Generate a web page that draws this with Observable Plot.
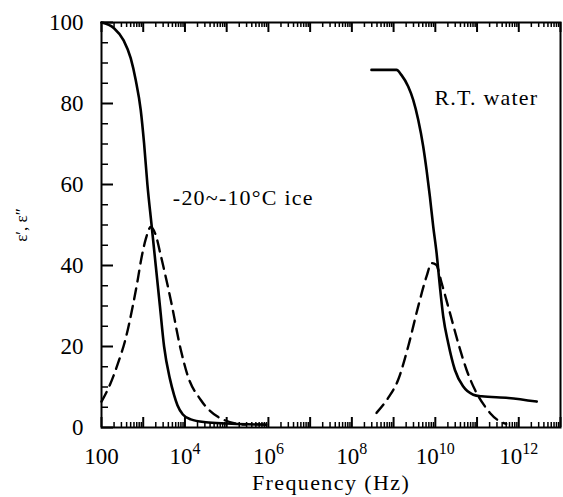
<!DOCTYPE html>
<html>
<head>
<meta charset="utf-8">
<script src="https://cdn.jsdelivr.net/npm/d3@7"></script>
<script src="https://cdn.jsdelivr.net/npm/@observablehq/plot@0.6"></script>
<style>
  body { margin: 0; background: #fff; }
  .chart g[aria-label="text"] text { letter-spacing: 1.2px; }
  .chart g[aria-label="x-axis label"] text { letter-spacing: 1.4px; font-size: 22px; }
  .chart g[aria-label="y-axis label"] text { font-size: 17px; }
</style>
</head>
<body>
<div id="chart"></div>
<script>
// log10 of frequency (Hz) and permittivity values
const iceRealLogF = [2.0, 2.3, 2.53, 2.7, 2.82, 2.94, 3.02, 3.1, 3.2, 3.3, 3.4, 3.5, 3.64, 3.74, 3.82, 3.95, 4.14, 4.5, 5.0, 5.5, 5.95];
const iceRealEps  = [100, 98.6, 95.6, 91.2, 85.8, 78.4, 70.2, 60, 50, 40, 30, 20, 12, 8, 5.5, 3.2, 2, 1.3, 1.0, 0.8, 0.7];

const iceImagLogF = [2.0, 2.2, 2.4, 2.58, 2.74, 2.86, 2.96, 3.06, 3.18, 3.3, 3.42, 3.66, 3.9, 4.06, 4.38, 4.78, 4.93, 5.2, 5.45];
const iceImagEps  = [6.4, 10.5, 16, 22, 29.5, 36, 42, 46.5, 49.5, 47.5, 42.5, 31.5, 19.2, 13, 6.8, 2.7, 1.9, 1.0, 0.7];

const waterRealLogF = [8.47, 9.07, 9.19, 9.35, 9.47, 9.59, 9.71, 9.79, 9.87, 9.95, 10.03, 10.11, 10.19, 10.31, 10.47, 10.67, 10.91, 11.11, 11.75, 12.43];
const waterRealEps  = [88.3, 88.3, 87, 84.2, 80.9, 76, 69.4, 63.6, 57, 49.6, 43.1, 34.8, 27.4, 20.8, 14.2, 10.1, 8.1, 7.7, 7.3, 6.4];

const waterImagLogF = [8.59, 8.87, 9.11, 9.35, 9.59, 9.79, 9.91, 10.02, 10.15, 10.35, 10.55, 10.75, 10.95, 11.19, 11.31, 11.5, 11.7];
const waterImagEps  = [3.6, 7.3, 11.8, 20, 29.9, 37.3, 40.6, 40.2, 35.7, 28.3, 20.8, 14.2, 9.3, 5.2, 3.6, 1.8, 0.9];

const annotations = ["-20~-10°C ice", "R.T. water"];
const annotationLogF = [3.71, 9.98];
const annotationEps = [56.7, 81.4];

const xDecadeExps = [2, 3, 4, 5, 6, 7, 8, 9, 10, 11, 12, 13];
const xLabelExps = [2, 4, 6, 8, 10, 12];
const yMajorTicks = [0, 20, 40, 60, 80, 100];
const yMinorTicks = [5, 10, 15, 25, 30, 35, 45, 50, 55, 65, 70, 75, 85, 90, 95];

const toRows = (lf, v) => lf.map((l, i) => ({f: 10 ** l, v: v[i]}));
const iceReal = toRows(iceRealLogF, iceRealEps);
const iceImag = toRows(iceImagLogF, iceImagEps);
const waterReal = toRows(waterRealLogF, waterRealEps);
const waterImag = toRows(waterImagLogF, waterImagEps);
const notes = annotations.map((t, i) => ({t, f: 10 ** annotationLogF[i], v: annotationEps[i]}));

const xMajor = xDecadeExps.map(e => 10 ** e);
const xMinor = xDecadeExps.slice(0, -1).flatMap(e => [2,3,4,5,6,7,8,9].map(m => m * 10 ** e));
const xLabels = xLabelExps.map(e => 10 ** e);
const fmt = d => { const e = Math.round(Math.log10(d)); return e === 2 ? "100" : "10^" + e; };

const W = 563, H = 497, ML = 101, MR = 3, MT = 22, MB = 70;
const frameH = H - MT - MB, frameW = W - ML - MR;

const chart = Plot.plot({
  width: W, height: H,
  marginLeft: ML, marginRight: MR, marginTop: MT, marginBottom: MB,
  className: "chart",
  style: {fontFamily: "'Liberation Serif', 'Times New Roman', serif", fontSize: "23px", background: "white", color: "black"},
  x: {type: "log", domain: [1e2, 1e13], ticks: xLabels, tickSize: 0, tickPadding: 20, tickFormat: fmt,
      label: "Frequency (Hz)", labelAnchor: "center", labelOffset: 62, labelArrow: "none"},
  y: {domain: [0, 100], ticks: yMajorTicks, tickSize: 0, tickPadding: 18,
      label: "ε′, ε″", labelAnchor: "center", labelOffset: 87, labelArrow: "none"},
  marks: [
    // inward ticks on bottom, top and left edges
    Plot.tickX(xMinor, {x: d => d, insetTop: frameH - 5, stroke: "black", strokeWidth: 1.5}),
    Plot.tickX(xMajor, {x: d => d, insetTop: frameH - 10, stroke: "black", strokeWidth: 2}),
    Plot.tickX(xMinor, {x: d => d, insetBottom: frameH - 5, stroke: "black", strokeWidth: 1.5}),
    Plot.tickX(xMajor, {x: d => d, insetBottom: frameH - 10, stroke: "black", strokeWidth: 2}),
    Plot.tickY(yMinorTicks, {y: d => d, insetRight: frameW - 7, stroke: "black", strokeWidth: 1.5}),
    Plot.tickY(yMajorTicks, {y: d => d, insetRight: frameW - 12, stroke: "black", strokeWidth: 2}),
    Plot.line(iceReal, {x: "f", y: "v", stroke: "black", strokeWidth: 2.6, curve: "monotone-x"}),
    Plot.line(iceImag, {x: "f", y: "v", stroke: "black", strokeWidth: 2.4, strokeDasharray: "11,7", curve: "monotone-x"}),
    Plot.line(waterReal, {x: "f", y: "v", stroke: "black", strokeWidth: 2.6, curve: "monotone-x"}),
    Plot.line(waterImag, {x: "f", y: "v", stroke: "black", strokeWidth: 2.4, strokeDasharray: "11,7", curve: "monotone-x"}),
    Plot.text(notes, {x: "f", y: "v", text: "t", textAnchor: "start", fontSize: 22, fill: "black"}),
    Plot.frame({stroke: "black", strokeWidth: 2, fill: "none"})
  ]
});
document.getElementById("chart").appendChild(chart);

// render superscript exponents on the x tick labels
d3.select(chart).selectAll('g[aria-label="x-axis tick label"] text').each(function() {
  const s = this.textContent;
  if (s.includes("^")) {
    const [base, exp] = s.split("^");
    const t = d3.select(this);
    t.text(null);
    t.append("tspan").text(base);
    t.append("tspan").attr("dy", "-10").attr("font-size", "16").text(exp);
  }
});
</script>
</body>
</html>
